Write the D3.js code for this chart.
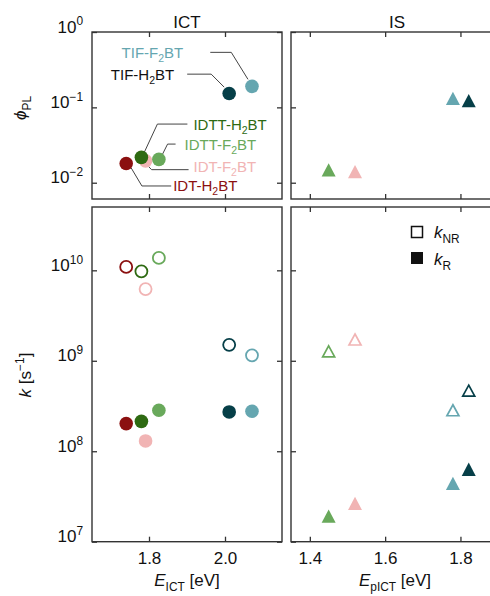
<!DOCTYPE html>
<html>
<head>
<meta charset="utf-8">
<script src="https://cdn.jsdelivr.net/npm/d3@7"></script>
<style>
  html, body { margin: 0; padding: 0; background: #fff; }
  svg { display: block; font-family: "Liberation Sans", Arial, sans-serif; }
</style>
</head>
<body>
<svg id="chart" width="490" height="596"></svg>
<script>
// --- data ---
var compounds      = ['IDT-F2BT', 'IDT-H2BT', 'IDTT-F2BT', 'IDTT-H2BT', 'TIF-H2BT', 'TIF-F2BT'];
var compoundColors = ['#f1b4b4', '#8b1010', '#69a95b', '#2e6a12', '#063f48', '#65a6b0'];

// ICT state (left column)
var eICT    = [1.791, 1.740, 1.826, 1.780, 2.011, 2.071];
var plqyICT = [0.0195, 0.018, 0.0204, 0.0217, 0.153, 0.19];
var kNRICT  = [6.2e9, 1.09e10, 1.37e10, 9.75e9, 1.5e9, 1.15e9];
var kRICT   = [1.3e8, 2.02e8, 2.84e8, 2.14e8, 2.72e8, 2.77e8];

// IS state (right column)
var isCompounds = ['IDTT-F2BT', 'IDT-F2BT', 'TIF-F2BT', 'TIF-H2BT'];
var ePICT   = [1.45, 1.52, 1.78, 1.822];
var plqyIS  = [0.0147, 0.014, 0.131, 0.122];
var kNRIS   = [1.27e9, 1.72e9, 2.84e8, 4.67e8];
var kRIS    = [1.91e7, 2.64e7, 4.4e7, 6.3e7];

// tick labels
var xTicksICT = [1.8, 2.0];
var xTicksIS  = [1.4, 1.6, 1.8];
var yTicksPL  = [1, 0.1, 0.01];
var yTicksK   = [1e7, 1e8, 1e9, 1e10];

// label callouts for the top-left panel (offsets from the marker)
var callouts = [
  { name: 'TIF-F2BT',  anchor: 'end',   tx: -68.7, ty: -28.5, pts: [[-41.7,-34],[-20.7,-34],[-4,-7]] },
  { name: 'TIF-H2BT',  anchor: 'end',   tx: -55,   ty: -13.8, pts: [[-42,-19.3],[-18,-19.3],[-5,-6.3]], textColor: '#111' },
  { name: 'IDTT-H2BT', anchor: 'start', tx: 52,    ty: -27.8, pts: [[46,-33.3],[16,-33.3],[3,-5.3]] },
  { name: 'IDTT-F2BT', anchor: 'start', tx: 25.7,  ty: -9.8,  pts: [[16.7,-15.3],[8.7,-15.3],[3.7,-5.3]] },
  { name: 'IDT-F2BT',  anchor: 'start', tx: 48,    ty: 10.8,  pts: [[43,8.8],[6,8.8],[0,2.6]] },
  { name: 'IDT-H2BT',  anchor: 'start', tx: 47,    ty: 27.5,  pts: [[45,22.5],[15.7,22.5],[4.7,4]] }
];

var colorOf = {};
compounds.forEach(function(c, i){ colorOf[c] = compoundColors[i]; });

var svg = d3.select('#chart');
var frameColor = '#333';
var FS = 17;   // tick labels, axis labels
var LFS = 15;  // callout labels

// scales
var xICT = d3.scaleLinear().domain([1.65, 2.15]).range([92, 282]);
var xIS  = d3.scaleLinear().domain([1.35, 1.913]).range([291, 503]);
var yPL  = d3.scaleLog().domain([Math.pow(10, -2.216), 1]).range([199, 32]);
var yK   = d3.scaleLog().domain([1e7, Math.pow(10, 10.70)]).range([541.7, 207]);

// draw text with sub/superscripts: parts = [{t, sub, sup, it}]
function rich(textSel, parts, size){
  var shift = 0;
  parts.forEach(function(p){
    var ts = textSel.append('tspan').text(p.t);
    var want = p.sub ? size * 0.3 : (p.sup ? -size * 0.42 : 0);
    ts.attr('dy', want - shift);
    shift = want;
    if (p.sub || p.sup) ts.attr('font-size', size * 0.7);
    if (p.it) ts.attr('font-style', 'italic');
  });
}
function nameParts(name){
  var i = name.indexOf('2');
  return [{ t: name.slice(0, i) }, { t: '2', sub: true }, { t: name.slice(i + 1) }];
}
function expFormat(sel){
  sel.selectAll('.tick text').each(function(d){
    var t = d3.select(this);
    var e = Math.round(Math.log10(d));
    t.text(null);
    rich(t, [{ t: '10' }, { t: String(e).replace('-', '\u2212'), sup: true }], FS);
  });
}

function panel(x, y, xTicks, yTicks, showX, showY, rightTicks){
  var g = svg.append('g');
  var x0 = x.range()[0], x1 = x.range()[1], y0 = y.range()[1], y1 = y.range()[0];

  var bottom = d3.axisBottom(x).tickValues(xTicks).tickSizeInner(-5).tickSizeOuter(0).tickPadding(10)
    .tickFormat(showX ? d3.format('.1f') : '');
  var top = d3.axisTop(x).tickValues(xTicks).tickSizeInner(-5).tickSizeOuter(0).tickFormat('');
  var left = d3.axisLeft(y).tickValues(yTicks).tickSizeInner(-5).tickSizeOuter(0).tickPadding(9)
    .tickFormat(showY ? function(d){ return d; } : '');

  g.append('g').attr('transform', 'translate(0,' + y1 + ')').call(bottom);
  g.append('g').attr('transform', 'translate(0,' + y0 + ')').call(top);
  var gl = g.append('g').attr('transform', 'translate(' + x0 + ',0)').call(left);
  if (rightTicks) {
    var right = d3.axisRight(y).tickValues(yTicks).tickSizeInner(-5).tickSizeOuter(0).tickFormat('');
    g.append('g').attr('transform', 'translate(' + x1 + ',0)').call(right);
  }
  if (showY) expFormat(gl);

  g.selectAll('.domain').remove();
  g.selectAll('.tick line').attr('stroke', frameColor).attr('stroke-width', 1.3);
  g.selectAll('.tick text').attr('font-size', FS).attr('fill', '#111')
    .attr('font-family', '"Liberation Sans", Arial, sans-serif');

  g.append('rect')
    .attr('x', x0).attr('y', y0)
    .attr('width', x1 - x0).attr('height', y1 - y0)
    .attr('fill', 'none').attr('stroke', frameColor).attr('stroke-width', 1.4);
  return g;
}

function circles(g, names, xs, ys, x, y, open){
  g.selectAll(null).data(names).enter().append('circle')
    .attr('cx', function(d, i){ return x(xs[i]); })
    .attr('cy', function(d, i){ return y(ys[i]); })
    .attr('r', open ? 6 : 6.8)
    .attr('fill', function(d){ return open ? 'none' : colorOf[d]; })
    .attr('stroke', function(d){ return open ? colorOf[d] : 'none'; })
    .attr('stroke-width', open ? 1.8 : 0);
}
function triangles(g, names, xs, ys, x, y, open){
  var p = open ? 'M0,-5.5L6,5.5L-6,5.5Z' : 'M0,-6.8L7,6.5L-7,6.5Z';
  g.selectAll(null).data(names).enter().append('path')
    .attr('d', p)
    .attr('transform', function(d, i){ return 'translate(' + x(xs[i]) + ',' + y(ys[i]) + ')'; })
    .attr('fill', function(d){ return open ? 'none' : colorOf[d]; })
    .attr('stroke', function(d){ return open ? colorOf[d] : 'none'; })
    .attr('stroke-width', open ? 1.7 : 0)
    .attr('stroke-linejoin', 'miter');
}

// panels
var pTL = panel(xICT, yPL, xTicksICT, yTicksPL, false, true, true);
var pTR = panel(xIS, yPL, xTicksIS, yTicksPL, false, false, false);
var pBL = panel(xICT, yK, xTicksICT, yTicksK, true, true, true);
var pBR = panel(xIS, yK, xTicksIS, yTicksK, true, false, false);

// callouts (top left)
callouts.forEach(function(c){
  var i = compounds.indexOf(c.name);
  var cx = xICT(eICT[i]), cy = yPL(plqyICT[i]);
  pTL.append('path')
    .attr('d', d3.line()(c.pts.map(function(p){ return [cx + p[0], cy + p[1]]; })))
    .attr('fill', 'none').attr('stroke', '#444').attr('stroke-width', 1);
  var t = pTL.append('text')
    .attr('x', cx + c.tx).attr('y', cy + c.ty)
    .attr('text-anchor', c.anchor)
    .attr('font-size', LFS)
    .attr('fill', c.textColor || colorOf[c.name]);
  rich(t, nameParts(c.name), LFS);
});

circles(pTL, compounds, eICT, plqyICT, xICT, yPL, false);
triangles(pTR, isCompounds, ePICT, plqyIS, xIS, yPL, false);
circles(pBL, compounds, eICT, kNRICT, xICT, yK, true);
circles(pBL, compounds, eICT, kRICT, xICT, yK, false);
triangles(pBR, isCompounds, ePICT, kNRIS, xIS, yK, true);
triangles(pBR, isCompounds, ePICT, kRIS, xIS, yK, false);

// legend
var lg = svg.append('g');
lg.append('rect').attr('x', 411.5).attr('y', 226.5).attr('width', 11).attr('height', 11)
  .attr('fill', 'none').attr('stroke', '#111').attr('stroke-width', 1.5);
lg.append('rect').attr('x', 411).attr('y', 252).attr('width', 12).attr('height', 12).attr('fill', '#111');
rich(lg.append('text').attr('x', 434).attr('y', 238).attr('font-size', FS).attr('fill', '#111'),
  [{ t: 'k', it: true }, { t: 'NR', sub: true }], FS);
rich(lg.append('text').attr('x', 434).attr('y', 264.5).attr('font-size', FS).attr('fill', '#111'),
  [{ t: 'k', it: true }, { t: 'R', sub: true }], FS);

// titles and axis labels
svg.append('text').attr('x', 187).attr('y', 28).attr('text-anchor', 'middle')
  .attr('font-size', FS).attr('fill', '#111').text('ICT');
svg.append('text').attr('x', 397).attr('y', 28).attr('text-anchor', 'middle')
  .attr('font-size', FS).attr('fill', '#111').text('IS');

rich(svg.append('text').attr('x', 187).attr('y', 586).attr('text-anchor', 'middle')
  .attr('font-size', FS).attr('fill', '#111'),
  [{ t: 'E', it: true }, { t: 'ICT', sub: true }, { t: ' [eV]' }], FS);
rich(svg.append('text').attr('x', 395).attr('y', 586).attr('text-anchor', 'middle')
  .attr('font-size', FS).attr('fill', '#111'),
  [{ t: 'E', it: true }, { t: 'pICT', sub: true }, { t: ' [eV]' }], FS);

rich(svg.append('text').attr('transform', 'translate(26,108) rotate(-90)').attr('text-anchor', 'middle')
  .attr('font-size', FS).attr('fill', '#111'),
  [{ t: '\u03d5', it: true }, { t: 'PL', sub: true }], FS);
rich(svg.append('text').attr('transform', 'translate(31,375) rotate(-90)').attr('text-anchor', 'middle')
  .attr('font-size', FS).attr('fill', '#111'),
  [{ t: 'k', it: true }, { t: ' [s' }, { t: '\u22121', sup: true }, { t: ']' }], FS);
</script>
</body>
</html>
